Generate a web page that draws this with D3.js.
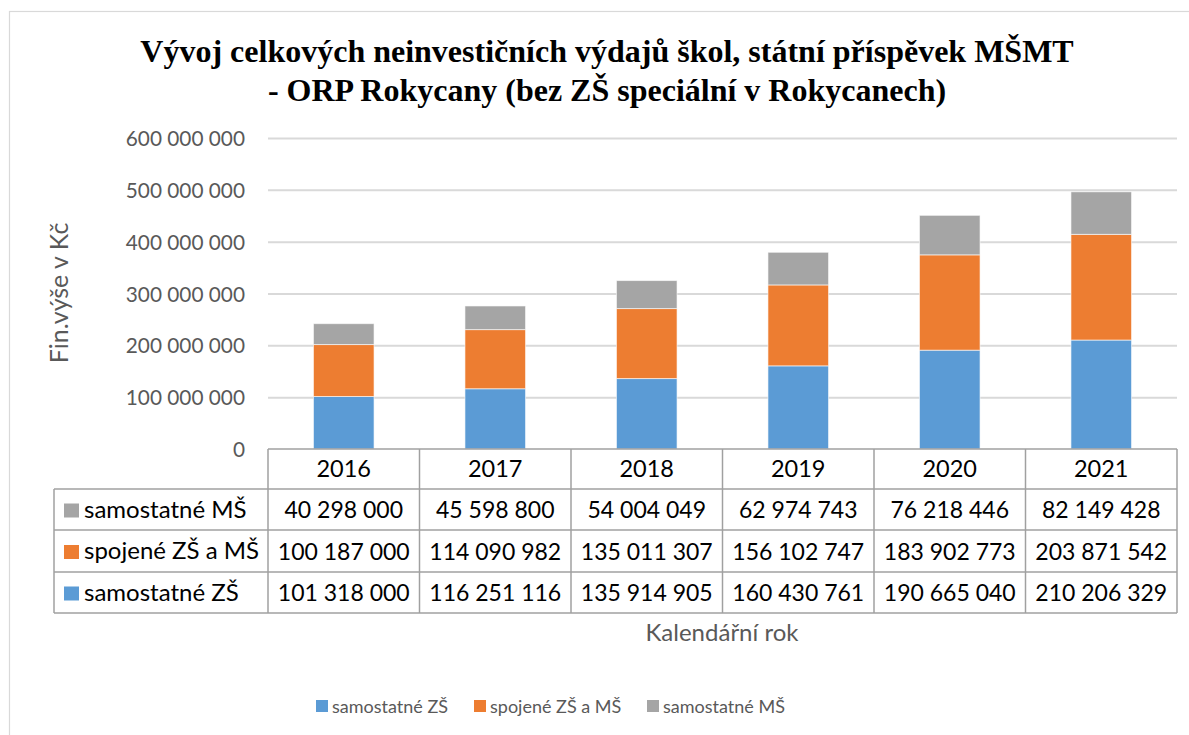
<!DOCTYPE html>
<html><head><meta charset="utf-8">
<script src="https://cdn.jsdelivr.net/npm/d3@7"></script>
<style>
html,body{margin:0;padding:0;background:#fff;}
svg{display:block;}
</style></head>
<body>
<svg id="chart" width="1189" height="735"></svg>
<script>
const years = ["2016","2017","2018","2019","2020","2021"];
const seriesNames = ["samostatné ZŠ","spojené ZŠ a MŠ","samostatné MŠ"];
const samostatneZS = [101318000,116251116,135914905,160430761,190665040,210206329];
const spojeneZSaMS = [100187000,114090982,135011307,156102747,183902773,203871542];
const samostatneMS = [40298000,45598800,54004049,62974743,76218446,82149428];
const colors = ["#5B9BD5","#ED7D31","#A5A5A5"];
const yTicks = [0,100000000,200000000,300000000,400000000,500000000,600000000];
const titleLines = ["Vývoj celkových neinvestičních výdajů škol, státní příspěvek MŠMT","- ORP Rokycany (bez ZŠ speciální v Rokycanech)"];
const yTitle = "Fin.výše v Kč";
const xTitle = "Kalendářní rok";

(function(){
const seriesValues = [samostatneZS, spojeneZSaMS, samostatneMS];
const rows = years.map((y,i)=>{const o={year:y}; seriesNames.forEach((s,j)=>o[s]=seriesValues[j][i]); return o;});

const loc = d3.formatLocale({decimal:",",thousands:"\u00a0",grouping:[3],currency:["","Kč"]});
const fmt = loc.format(",d");

const svg = d3.select("#chart");
const sans = "Lato, 'Open Sans', sans-serif";

svg.append("rect").attr("x",9.5).attr("y",11.5).attr("width",1200).attr("height",800)
  .attr("fill","none").attr("stroke","#D9D9D9").attr("stroke-width",1.2);

const pLeft=268, pRight=1177, pTop=138, pBottom=449;
const x = d3.scaleBand().domain(years).range([pLeft,pRight]).paddingInner(0.6).paddingOuter(0.3);
const xc = d3.scaleBand().domain(years).range([pLeft,pRight]);
const y = d3.scaleLinear().domain([0,600000000]).range([pBottom,pTop]);

const t = svg.append("text").attr("text-anchor","middle").attr("font-family","'Liberation Serif','Times New Roman',serif")
  .attr("font-weight","bold").attr("font-size",32).attr("fill","#000");
titleLines.forEach((l,i)=>t.append("tspan").attr("x",607).attr("y",62+i*39).text(l));

const yAxis = d3.axisLeft(y).tickValues(yTicks).tickFormat(fmt).tickSize(-(pRight-pLeft)).tickPadding(23);
const ga = svg.append("g").attr("transform",`translate(${pLeft},0)`).call(yAxis);
ga.select(".domain").remove();
ga.selectAll(".tick line").attr("stroke","#D9D9D9").attr("stroke-width",2).filter(d=>d===0).remove();
ga.selectAll(".tick text").attr("font-family",sans).attr("font-size",20.8).attr("fill","#595959").attr("dy","0.36em");

const stack = d3.stack().keys(seriesNames)(rows);
svg.append("g").selectAll("g").data(stack).join("g").attr("fill",(d,i)=>colors[i])
  .selectAll("rect").data(d=>d).join("rect")
  .attr("x",d=>x(d.data.year)).attr("width",x.bandwidth())
  .attr("y",d=>y(d[1])).attr("height",d=>y(d[0])-y(d[1]))
  .attr("stroke","#fff").attr("stroke-opacity",0.6).attr("stroke-width",1);

svg.append("text").attr("transform","translate(68,293) rotate(-90)").attr("text-anchor","middle")
  .attr("font-family",sans).attr("font-size",25).attr("fill","#595959").text(yTitle);

const lineC = "#A0A0A0";
const rowTops = [449,489,530,572,613];
const tableLeft = 54;
const tg = svg.append("g");
tg.append("line").attr("x1",pLeft).attr("x2",pRight).attr("y1",rowTops[0]).attr("y2",rowTops[0]).attr("stroke",lineC).attr("stroke-width",1.5);
rowTops.slice(1).forEach(yy=>tg.append("line").attr("x1",tableLeft).attr("x2",pRight).attr("y1",yy).attr("y2",yy).attr("stroke",lineC).attr("stroke-width",1.5));
years.forEach(yr=>tg.append("line").attr("x1",xc(yr)).attr("x2",xc(yr)).attr("y1",rowTops[0]).attr("y2",rowTops[4]).attr("stroke",lineC).attr("stroke-width",1.5));
tg.append("line").attr("x1",pRight).attr("x2",pRight).attr("y1",rowTops[0]).attr("y2",rowTops[4]).attr("stroke",lineC).attr("stroke-width",1.5);
tg.append("line").attr("x1",tableLeft).attr("x2",tableLeft).attr("y1",rowTops[1]).attr("y2",rowTops[4]).attr("stroke",lineC).attr("stroke-width",1.5);
years.forEach(yr=>tg.append("text").attr("x",xc(yr)+xc.bandwidth()/2).attr("y",(rowTops[0]+rowTops[1])/2+8)
  .attr("text-anchor","middle").attr("font-family",sans).attr("font-size",23.5).attr("fill","#000").text(yr));
const tableOrder = [2,1,0];
tableOrder.forEach((si,r)=>{
  const cy = (rowTops[r+1]+rowTops[r+2])/2;
  tg.append("rect").attr("x",64).attr("y",cy-6).attr("width",15).attr("height",14).attr("fill",colors[si]);
  tg.append("text").attr("x",84).attr("y",cy+8).attr("font-family",sans).attr("font-size",24).attr("fill","#000").text(seriesNames[si]);
  years.forEach((yr,i)=>tg.append("text").attr("x",xc(yr)+xc.bandwidth()/2).attr("y",cy+8.5)
    .attr("text-anchor","middle").attr("font-family",sans).attr("font-size",23).attr("fill","#000").text(fmt(seriesValues[si][i])));
});

svg.append("text").attr("x",722).attr("y",641).attr("text-anchor","middle").attr("font-family",sans)
  .attr("font-size",24).attr("fill","#595959").text(xTitle);

const legX = [316,474,647];
seriesNames.forEach((s,i)=>{
  svg.append("rect").attr("x",legX[i]).attr("y",700).attr("width",12).attr("height",12).attr("fill",colors[i]);
  svg.append("text").attr("x",legX[i]+16).attr("y",713).attr("font-family",sans).attr("font-size",18).attr("fill","#595959").text(s);
});
})();
</script>
</body></html>
